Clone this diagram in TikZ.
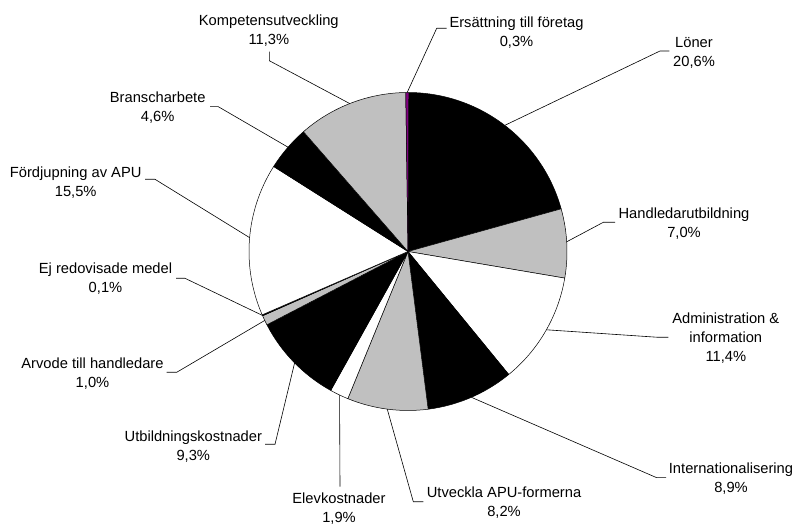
\documentclass[tikz,border=0pt]{standalone}
\usepackage{fontspec}
\setmainfont{Liberation Sans}
\usetikzlibrary{calc}
\definecolor{pgray}{RGB}{192,192,192}
\definecolor{ppurple}{RGB}{128,0,128}
\begin{document}
\begin{tikzpicture}[x=1pt,y=1pt,
  lbl/.style={align=center,anchor=north,inner sep=0pt,font=\fontsize{14.7}{19.3}\selectfont},
  leader/.style={draw=black,line width=0.6pt},
  slice/.style={draw=black,line width=0.5pt,line join=round}]
\useasboundingbox (0,0) rectangle (797,527);
\coordinate (C) at (408,275.5);
\def\R{159}
% pie slices
\foreach \a/\b/\col in {89.72/15.56/black, 15.56/-9.64/pgray, -9.64/-50.68/white,
  -50.68/-82.72/black, -82.72/-112.24/pgray, -112.24/-119.08/white,
  -119.08/-152.56/black, -152.56/-156.16/pgray, -156.16/-156.52/black,
  -156.52/-212.32/white, -212.32/-228.88/black, -228.88/-269.2/pgray,
  90.8/89.72/ppurple}{
  \filldraw[slice,fill=\col] (C) -- ($(C)+(\a:\R)$) arc[start angle=\a,end angle=\b,radius=\R] -- cycle;
}
% pie edge points for leaders
\coordinate (pkomp) at ($(C)+(111.5:\R)$);
\coordinate (persa) at ($(C)+(90.3:\R)$);
\coordinate (ploner) at ($(C)+(52.5:\R)$);
\coordinate (phand) at ($(C)+(3.5:\R)$);
\coordinate (padm) at ($(C)+(-29.5:\R)$);
\coordinate (pint) at ($(C)+(-66.5:\R)$);
\coordinate (putv) at ($(C)+(-97.5:\R)$);
\coordinate (pelev) at ($(C)+(-115.5:\R)$);
\coordinate (putb) at ($(C)+(-135.5:\R)$);
\coordinate (parv) at ($(C)+(-154.3:\R)$);
\coordinate (pej) at ($(C)+(-156.3:\R)$);
\coordinate (pford) at ($(C)+(175:\R)$);
\coordinate (pbran) at ($(C)+(139:\R)$);
% leader ends near labels
\coordinate (k1) at (269.3,475.3); \coordinate (k2) at (269.3,466.3);
\coordinate (e1) at (446.7,498.7); \coordinate (e2) at (436.7,498.7);
\coordinate (l1) at (669.3,476); \coordinate (l2) at (660,476);
\coordinate (h1) at (615,304.7); \coordinate (h2) at (603.3,304.7);
\coordinate (a1) at (668.3,189.7); \coordinate (a2) at (658,189.7);
\coordinate (i1) at (666,49.3); \coordinate (i2) at (656.7,49.3);
\coordinate (u1) at (423.3,25.3); \coordinate (u2) at (413.3,25.3);
\coordinate (el2) at (340,40.3);
\coordinate (ub1) at (265,82.7); \coordinate (ub2) at (275,82.7);
\coordinate (ar1) at (166.7,154.7); \coordinate (ar2) at (176.7,154.7);
\coordinate (ej1) at (176,248.7); \coordinate (ej2) at (185,248.7);
\coordinate (f1) at (145,347.7); \coordinate (f2) at (155,347.7);
\coordinate (b1) at (210,420.3); \coordinate (b2) at (218.3,420.3);
% leaders
\draw[leader] (k1) -- (k2) -- (pkomp);
\draw[leader] (e1) -- (e2) -- (persa);
\draw[leader] (l1) -- (l2) -- (ploner);
\draw[leader] (h1) -- (h2) -- (phand);
\draw[leader] (a1) -- (a2) -- (padm);
\draw[leader] (i1) -- (i2) -- (pint);
\draw[leader] (u1) -- (u2) -- (putv);
\draw[leader] (el2) -- (pelev);
\draw[leader] (ub1) -- (ub2) -- (putb);
\draw[leader] (ar1) -- (ar2) -- (parv);
\draw[leader] (ej1) -- (ej2) -- (pej);
\draw[leader] (f1) -- (f2) -- (pford);
\draw[leader] (b1) -- (b2) -- (pbran);
% labels
\node[lbl] (Lkomp) at (268.8,512.5) {Kompetensutveckling\\11,3\%};
\node[lbl] (Lersa) at (516.5,510.8) {Ersättning till företag\\0,3\%};
\node[lbl] (Lloner) at (694,490.2) {Löner\\20,6\%};
\node[lbl] (Lbran) at (157.7,435.8) {Branscharbete\\4,6\%};
\node[lbl] (Lford) at (75.7,360.8) {Fördjupning av APU\\15,5\%};
\node[lbl] (Lhand) at (684,319.2) {Handledarutbildning\\7,0\%};
\node[lbl] (Lej) at (105.5,264.2) {Ej redovisade medel\\0,1\%};
\node[lbl] (Ladm) at (725.8,214.8) {Administration \&\\information\\11,4\%};
\node[lbl] (Larv) at (92.5,169.2) {Arvode till handledare\\1,0\%};
\node[lbl] (Lutb) at (193.3,96.5) {Utbildningskostnader\\9,3\%};
\node[lbl] (Lint) at (731,64.2) {Internationalisering\\8,9\%};
\node[lbl] (Lutv) at (504,40.8) {Utveckla APU-formerna\\8,2\%};
\node[lbl] (Lelev) at (339,34.2) {Elevkostnader\\1,9\%};
\end{tikzpicture}
\end{document}
